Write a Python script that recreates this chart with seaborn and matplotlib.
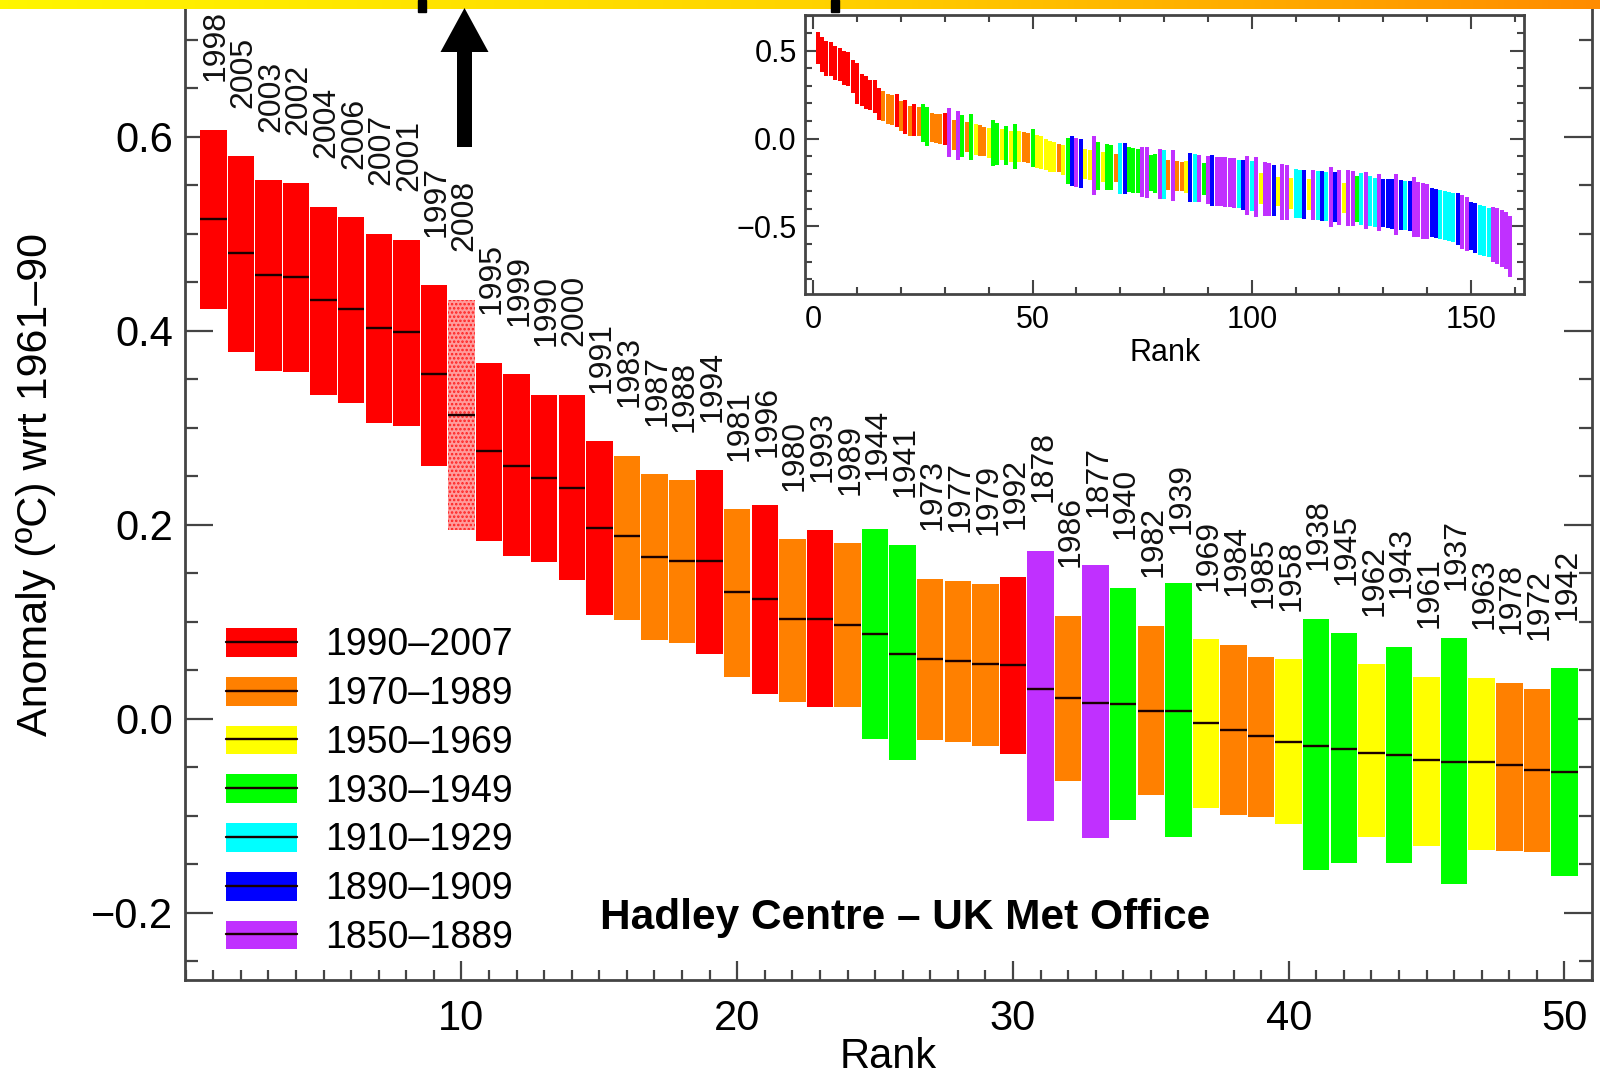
import numpy as np
import pandas as pd
import matplotlib
matplotlib.use("Agg")
import matplotlib.pyplot as plt
import seaborn as sns
from matplotlib.patches import Patch, FancyArrow, Rectangle
from matplotlib.lines import Line2D
from matplotlib.colors import LinearSegmentedColormap
from matplotlib.ticker import MultipleLocator, FixedLocator, FuncFormatter

# ---------------- data ----------------
periods = ["1990–2007", "1970–1989", "1950–1969", "1930–1949",
           "1910–1929", "1890–1909", "1850–1889"]
period_colors = ["#ff0000", "#ff8000", "#ffff00", "#00ff00",
                 "#00ffff", "#0000ff", "#c030ff"]
period_starts = [1990, 1970, 1950, 1930, 1910, 1890, 1850]
period_codes = ["R", "O", "Y", "G", "C", "B", "P"]

main_years = [1998, 2005, 2003, 2002, 2004, 2006, 2007, 2001, 1997, 2008,
              1995, 1999, 1990, 2000, 1991, 1983, 1987, 1988, 1994, 1981,
              1996, 1980, 1993, 1989, 1944, 1941, 1973, 1977, 1979, 1992,
              1878, 1986, 1877, 1940, 1982, 1939, 1969, 1984, 1985, 1958,
              1938, 1945, 1962, 1943, 1961, 1937, 1963, 1978, 1972, 1942]
main_hi = [0.607, 0.580, 0.555, 0.552, 0.528, 0.517, 0.500, 0.494, 0.447, 0.432,
           0.367, 0.355, 0.334, 0.334, 0.286, 0.271, 0.252, 0.246, 0.256, 0.216,
           0.220, 0.185, 0.194, 0.181, 0.196, 0.179, 0.144, 0.142, 0.139, 0.146,
           0.173, 0.106, 0.158, 0.135, 0.096, 0.140, 0.082, 0.076, 0.064, 0.061,
           0.103, 0.088, 0.056, 0.074, 0.043, 0.083, 0.042, 0.037, 0.031, 0.052]
main_lo = [0.422, 0.378, 0.358, 0.357, 0.334, 0.325, 0.305, 0.302, 0.261, 0.194,
           0.183, 0.168, 0.162, 0.143, 0.107, 0.102, 0.081, 0.078, 0.067, 0.043,
           0.025, 0.017, 0.012, 0.012, -0.021, -0.043, -0.022, -0.024, -0.028, -0.036,
           -0.106, -0.064, -0.123, -0.105, -0.079, -0.122, -0.092, -0.099, -0.101, -0.109,
           -0.156, -0.149, -0.122, -0.149, -0.131, -0.171, -0.135, -0.136, -0.138, -0.162]
main_mid = [0.515, 0.480, 0.457, 0.455, 0.432, 0.422, 0.403, 0.399, 0.355, 0.313,
            0.276, 0.261, 0.248, 0.238, 0.197, 0.188, 0.167, 0.163, 0.163, 0.131,
            0.123, 0.103, 0.103, 0.097, 0.087, 0.067, 0.061, 0.059, 0.056, 0.055,
            0.031, 0.021, 0.016, 0.015, 0.008, 0.008, -0.004, -0.012, -0.018, -0.024,
            -0.028, -0.031, -0.035, -0.038, -0.043, -0.045, -0.045, -0.048, -0.053, -0.055]
partial_year = 2008

# inset: ranks 51..159 (ranks 1..50 are the ones above)
inset_codes = ["Y", "Y", "Y", "Y", "Y", "O", "Y", "G", "B", "P",
               "B", "Y", "Y", "P", "G", "Y", "G", "G", "O", "C",
               "B", "G", "G", "G", "P", "P", "G", "G", "P", "C",
               "O", "P", "O", "O", "Y", "B", "C", "P", "G", "P",
               "B", "P", "P", "P", "P", "P", "C", "B", "P", "C",
               "P", "Y", "P", "P", "B", "Y", "P", "P", "Y", "C",
               "C", "B", "Y", "P", "C", "B", "C", "P", "B", "P",
               "Y", "P", "P", "G", "C", "P", "C", "C", "P", "B",
               "B", "B", "P", "B", "C", "B", "P", "P", "P", "P",
               "B", "B", "C", "C", "C", "C", "B", "P", "P", "B",
               "B", "C", "C", "C", "P", "P", "P", "P", "P"]
inset_mid = [-0.072, -0.080, -0.090, -0.100, -0.105, -0.110, -0.120, -0.128, -0.130, -0.135,
             -0.140, -0.145, -0.150, -0.153, -0.155, -0.160, -0.161, -0.165, -0.166, -0.170,
             -0.172, -0.175, -0.180, -0.185, -0.190, -0.192, -0.196, -0.200, -0.202, -0.205,
             -0.208, -0.210, -0.213, -0.216, -0.219, -0.221, -0.225, -0.228, -0.231, -0.235,
             -0.238, -0.242, -0.245, -0.247, -0.250, -0.253, -0.258, -0.263, -0.267, -0.270,
             -0.274, -0.282, -0.287, -0.290, -0.296, -0.300, -0.304, -0.307, -0.310, -0.312,
             -0.315, -0.318, -0.320, -0.322, -0.324, -0.326, -0.328, -0.330, -0.332, -0.334,
             -0.336, -0.338, -0.341, -0.343, -0.346, -0.352, -0.357, -0.362, -0.365, -0.367,
             -0.369, -0.372, -0.376, -0.378, -0.381, -0.384, -0.390, -0.402, -0.410, -0.416,
             -0.421, -0.426, -0.431, -0.438, -0.444, -0.450, -0.460, -0.475, -0.487, -0.498,
             -0.508, -0.518, -0.527, -0.535, -0.545, -0.553, -0.566, -0.580, -0.615]
inset_hw = [0.095, 0.092, 0.088, 0.088, 0.086, 0.080, 0.085, 0.130, 0.142, 0.140,
            0.140, 0.087, 0.086, 0.170, 0.135, 0.086, 0.131, 0.130, 0.081, 0.143,
            0.146, 0.128, 0.127, 0.126, 0.143, 0.145, 0.100, 0.110, 0.140, 0.138,
            0.086, 0.143, 0.088, 0.081, 0.090, 0.138, 0.136, 0.135, 0.090, 0.136,
            0.145, 0.140, 0.138, 0.140, 0.142, 0.140, 0.138, 0.141, 0.168, 0.141,
            0.170, 0.088, 0.152, 0.150, 0.143, 0.084, 0.159, 0.155, 0.088, 0.137,
            0.138, 0.141, 0.088, 0.141, 0.138, 0.141, 0.140, 0.171, 0.143, 0.157,
            0.086, 0.160, 0.158, 0.129, 0.148, 0.164, 0.143, 0.140, 0.162, 0.138,
            0.140, 0.141, 0.174, 0.143, 0.141, 0.143, 0.171, 0.157, 0.160, 0.155,
            0.141, 0.140, 0.138, 0.138, 0.140, 0.141, 0.148, 0.154, 0.155, 0.135,
            0.141, 0.143, 0.141, 0.140, 0.157, 0.160, 0.162, 0.160, 0.174]

# ---------------- style ----------------
sns.set_theme(style="ticks")
plt.rcParams["font.family"] = ["Liberation Sans", "DejaVu Sans"]
plt.rcParams["text.color"] = "black"
plt.rcParams["hatch.linewidth"] = 1.2
SPINE = "#444444"


def period_of_year(y):
    for i, s in enumerate(period_starts):
        if y >= s:
            return i
    return len(period_starts) - 1


def minus_fmt(v, pos):
    return f"{v:.1f}".replace("-", "\u2212")


fig = plt.figure(figsize=(16, 10.8), dpi=100)

# ---------------- main axes ----------------
ax = fig.add_axes([0.1154, 0.0926, 0.8796, 0.9074])
n_main = len(main_years)
ranks = np.arange(1, n_main + 1)
hi = np.array(main_hi)
lo = np.array(main_lo)
df_main = pd.DataFrame({"rank": ranks, "height": hi - lo})
sns.barplot(data=df_main, x="rank", y="height", bottom=lo, native_scale=True,
            width=0.96, errorbar=None, color="#ff0000", saturation=1,
            linewidth=0, ax=ax)
for p, yr in zip(ax.patches, main_years):
    c = period_colors[period_of_year(yr)]
    p.set_facecolor(c)
    p.set_edgecolor("none")
    if yr == partial_year:
        p.set_facecolor("#ff9c9c")
        p.set_edgecolor("#ff2020")
        p.set_hatch("....")
        p.set_linewidth(0)

ax.hlines(main_mid, ranks - 0.48, ranks + 0.48, color="#1a0000", lw=1.7, zorder=3)

for r, h, yr in zip(ranks, hi, main_years):
    ax.text(r + 0.1, h + 0.05, str(yr), rotation=90, ha="center", va="bottom",
            fontsize=23, color="#111111")

ax.set_xlim(-0.04, 51.0)
ax.set_ylim(-0.2695, 0.741)
ax.xaxis.set_major_locator(FixedLocator([10, 20, 30, 40, 50]))
ax.xaxis.set_minor_locator(MultipleLocator(1))
ax.yaxis.set_major_locator(FixedLocator([-0.2, 0.0, 0.2, 0.4, 0.6]))
ax.yaxis.set_minor_locator(MultipleLocator(0.05))
ax.yaxis.set_major_formatter(FuncFormatter(minus_fmt))
ax.tick_params(axis="both", which="both", direction="in", colors=SPINE,
               labelcolor="black", width=1.6)
ax.tick_params(axis="y", which="major", length=20, labelsize=30, pad=8,
               left=True, right=True)
ax.tick_params(axis="y", which="minor", length=9.5, left=True, right=True)
ax.tick_params(axis="x", which="major", length=14, labelsize=30, pad=14,
               bottom=True, top=False)
ax.tick_params(axis="x", which="minor", length=7, bottom=True, top=False)
for s in ["left", "right", "bottom"]:
    ax.spines[s].set_color(SPINE)
    ax.spines[s].set_linewidth(2.0)
ax.spines["top"].set_visible(False)
ax.set_xlabel("")
ax.set_ylabel("")

fig.text(0.555, 0.021, "Rank", fontsize=30, ha="center", va="center")
fig.text(0.0225, 0.551, "Anomaly (ºC) wrt 1961–90", fontsize=31, rotation=90,
         ha="center", va="center")
fig.text(0.566, 0.150, "Hadley Centre – UK Met Office", fontsize=30.5,
         fontweight="bold", ha="center", va="center", color="black")

handles = [(Patch(facecolor=c, edgecolor="none"), Line2D([], [], color="#1a0000", lw=1.7))
           for c in period_colors]
leg = ax.legend(handles, periods, loc="upper left",
                bbox_to_anchor=(0.141, 0.419), bbox_transform=fig.transFigure,
                frameon=False, fontsize=27, handlelength=1.9, handleheight=0.8,
                handletextpad=0.75, labelspacing=0.34, borderpad=0,
                borderaxespad=0)

# ---------------- inset ----------------
ins = fig.add_axes([0.5031, 0.7278, 0.4497, 0.2583])
code_to_color = dict(zip(period_codes, period_colors))
all_lo = list(main_lo) + [m - h for m, h in zip(inset_mid, inset_hw)]
all_hi = list(main_hi) + [m + h for m, h in zip(inset_mid, inset_hw)]
all_colors = [period_colors[period_of_year(y)] for y in main_years] + \
             [code_to_color[c] for c in inset_codes]
all_ranks = np.arange(1, len(all_lo) + 1)
df_ins = pd.DataFrame({"rank": all_ranks,
                       "height": np.array(all_hi) - np.array(all_lo)})
sns.barplot(data=df_ins, x="rank", y="height", bottom=np.array(all_lo),
            native_scale=True, width=0.92, errorbar=None, color="#ff0000",
            saturation=1, linewidth=0, ax=ins)
for p, c in zip(ins.patches, all_colors):
    p.set_facecolor(c)
    p.set_edgecolor("none")

ins.set_xlim(-1.9, 162.2)
ins.set_ylim(-0.884, 0.703)
ins.xaxis.set_major_locator(FixedLocator([0, 50, 100, 150]))
ins.xaxis.set_minor_locator(MultipleLocator(10))
ins.yaxis.set_major_locator(FixedLocator([-0.5, 0.0, 0.5]))
ins.yaxis.set_minor_locator(MultipleLocator(0.1))
ins.yaxis.set_major_formatter(FuncFormatter(minus_fmt))
ins.tick_params(axis="both", which="both", direction="in", colors=SPINE,
                labelcolor="black", width=1.5, left=True, right=True,
                top=True, bottom=True)
ins.tick_params(axis="both", which="major", length=10, labelsize=22)
ins.tick_params(axis="y", which="major", pad=6)
ins.tick_params(axis="x", which="major", pad=8)
ins.tick_params(axis="both", which="minor", length=5)
for s in ins.spines.values():
    s.set_color(SPINE)
    s.set_linewidth(2.0)
ins.set_xlabel("Rank", fontsize=22, labelpad=2, color="black")
ins.set_ylabel("")

# ---------------- overlay: slide banner and arrow ----------------
ov = fig.add_axes([0, 0, 1, 1], zorder=10)
ov.patch.set_alpha(0)
ov.axis("off")
banner = LinearSegmentedColormap.from_list("banner", ["#fff600", "#ffd400", "#ff8c00"])
ov.imshow(np.linspace(0, 1, 400).reshape(1, -1), cmap=banner, aspect="auto",
          extent=(0, 1600, 9, 0), interpolation="bilinear")
ov.add_patch(Rectangle((418, 0), 8, 12, color="black"))
ov.add_patch(Rectangle((831, 0), 8, 12, color="black"))
ov.add_patch(FancyArrow(464.5, 147, 0, -139, width=15, head_width=48,
                        head_length=44, length_includes_head=True,
                        color="black", lw=0))
ov.set_xlim(0, 1600)
ov.set_ylim(1080, 0)

fig.savefig("out.png", dpi=100)
